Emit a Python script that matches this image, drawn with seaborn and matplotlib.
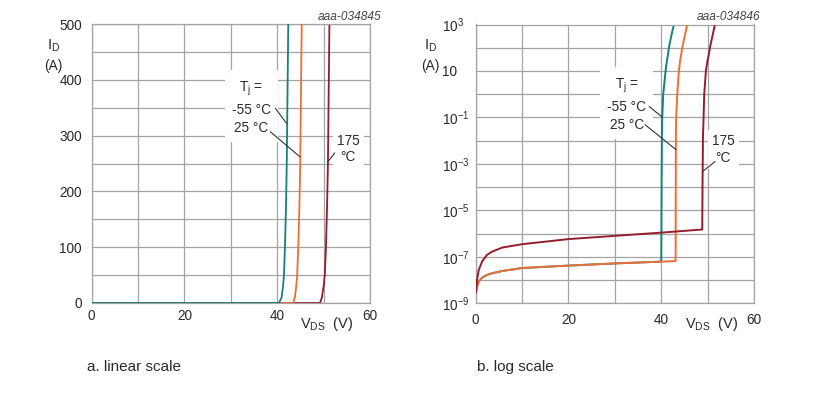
import matplotlib
matplotlib.use("Agg")
import matplotlib.pyplot as plt
import seaborn as sns
from matplotlib.ticker import FixedLocator, NullFormatter, FixedFormatter

# ---------------- data ----------------
temps = ["-55 °C", "25 °C", "175 °C"]
colors = ["#17807c", "#ec6f36", "#941d2c"]

v_m55 = [0, 0.29, 0.65, 1.36, 2.4, 3.5, 5.7, 10, 20, 30, 40.0, 40.08, 40.15, 40.22, 40.43,
         40.94, 41.25, 41.45, 41.66, 41.9, 42.05, 42.38, 42.74]
i_m55 = [2.7e-9, 5.2e-9, 8.5e-9, 1.26e-8, 1.66e-8, 1.95e-8, 2.45e-8, 3.3e-8, 4.2e-8, 5.2e-8,
         6.2e-8, 1e-4, 1.6e-2, 0.1, 1, 10, 30, 50, 100, 175, 250, 500, 1000]

v_25 = [0, 0.29, 0.65, 1.36, 2.4, 3.5, 5.7, 10, 20, 30, 40, 43.1, 43.13, 43.16, 43.23, 43.45,
        43.8, 44.1, 44.3, 44.53, 44.78, 44.96, 45.28, 45.6]
i_25 = [2.7e-9, 5.2e-9, 8.5e-9, 1.26e-8, 1.66e-8, 1.95e-8, 2.45e-8, 3.3e-8, 4.2e-8, 5.2e-8,
        6.2e-8, 6.6e-8, 1e-4, 1.6e-2, 0.1, 1, 10, 30, 50, 100, 175, 250, 500, 1000]

v_175 = [0, 0.29, 0.65, 1.36, 2.4, 3.5, 5.7, 10, 20, 30, 40, 48.84, 48.9, 49.0, 49.13, 49.27,
         49.63, 50.0, 50.25, 50.5, 50.75, 50.93, 51.25, 51.57]
i_175 = [2.7e-9, 1e-8, 2.7e-8, 6.2e-8, 1.2e-7, 1.66e-7, 2.5e-7, 3.5e-7, 5.8e-7, 8e-7, 1.1e-6,
         1.5e-6, 1e-4, 1.6e-2, 0.1, 1, 10, 30, 50, 100, 175, 250, 500, 1000]

x_ticks = [0, 20, 40, 60]
x_minor = [10, 30, 50]
lin_ticks = [0, 100, 200, 300, 400, 500]
lin_minor = [50, 150, 250, 350, 450]
log_ticks = [1e3, 1e1, 1e-1, 1e-3, 1e-5, 1e-7, 1e-9]
log_labels = ["$10^{3}$", "10", "$10^{-1}$", "$10^{-3}$", "$10^{-5}$", "$10^{-7}$", "$10^{-9}$"]
log_minor = [1e2, 1e0, 1e-2, 1e-4, 1e-6, 1e-8]

series = [(v_m55, i_m55), (v_25, i_25), (v_175, i_175)]

# ---------------- style ----------------
sns.set_style("white")
plt.rcParams["font.family"] = ["Liberation Sans", "DejaVu Sans"]
plt.rcParams["mathtext.fontset"] = "custom"
plt.rcParams["mathtext.rm"] = "Liberation Sans"
plt.rcParams["mathtext.it"] = "Liberation Sans:italic"
plt.rcParams["mathtext.bf"] = "Liberation Sans:bold"

TXT = "#2a2a2a"
GRID = "#a3a3a3"
FS = 9.8

W, H = 826, 393
fig = plt.figure(figsize=(W / 100, H / 100), dpi=100)

def px_axes(x0, y0, x1, y1):
    return fig.add_axes([x0 / W, 1 - y1 / H, (x1 - x0) / W, (y1 - y0) / H])

ax1 = px_axes(91.7, 24, 370, 303)
ax2 = px_axes(475.7, 24.5, 754, 303.3)

def common(ax):
    ax.set_xlim(0, 60)
    ax.xaxis.set_major_locator(FixedLocator(x_ticks))
    ax.xaxis.set_minor_locator(FixedLocator(x_minor))
    ax.grid(which="both", color=GRID, lw=0.9)
    ax.set_axisbelow(True)
    for s in ax.spines.values():
        s.set_color(GRID)
        s.set_linewidth(0.9)
    ax.tick_params(which="both", length=0, labelsize=FS, labelcolor=TXT)
    ax.set_xlabel("")
    ax.set_ylabel("")

# linear chart
for (v, i), c, z in zip(series, colors, [4, 3, 2]):
    sns.lineplot(x=v, y=i, ax=ax1, color=c, lw=1.3, sort=False, estimator=None, zorder=z)
common(ax1)
ax1.set_ylim(0, 500)
ax1.yaxis.set_major_locator(FixedLocator(lin_ticks))
ax1.yaxis.set_minor_locator(FixedLocator(lin_minor))
ax1.tick_params(axis="y", pad=7)
ax1.tick_params(axis="x", pad=4)

# log chart
for (v, i), c, z in zip(series, colors, [2, 3, 4]):
    sns.lineplot(x=v, y=i, ax=ax2, color=c, lw=1.4, sort=False, estimator=None, zorder=z)
common(ax2)
ax2.set_yscale("log")
ax2.set_ylim(1e-9, 1e3)
ax2.yaxis.set_major_locator(FixedLocator(log_ticks))
ax2.yaxis.set_major_formatter(FixedFormatter(log_labels))
ax2.yaxis.set_minor_locator(FixedLocator(log_minor))
ax2.yaxis.set_minor_formatter(NullFormatter())
ax2.tick_params(axis="y", pad=24)
for lab in ax2.get_yticklabels():
    lab.set_horizontalalignment("left")
ax2.tick_params(axis="x", pad=7)

# ---------------- annotations ----------------
box = dict(facecolor="white", edgecolor="none", pad=3)

def leader(ax, p0, p1):
    ax.annotate("", xy=p1, xytext=p0,
                arrowprops=dict(arrowstyle="-", color="#333333", lw=0.8,
                                shrinkA=0, shrinkB=0), zorder=6)

# linear
ax1.text(34.4, 350, "T$_{\\mathrm{j}}$ =\n-55 °C\n25 °C", ha="center", va="center",
         fontsize=FS, color=TXT, linespacing=1.4, bbox=dict(facecolor="white", edgecolor="none", pad=5), zorder=5)
leader(ax1, (39.6, 349), (42.0, 322))
leader(ax1, (38.5, 307), (44.9, 262))
ax1.text(55.3, 276, "175\n°C", ha="center", va="center", fontsize=FS, color=TXT,
         linespacing=1.2, bbox=box, zorder=5)
leader(ax1, (52.4, 269), (50.9, 253))

# log
ax2.text(32.6, 10 ** -0.44, "T$_{\\mathrm{j}}$ =\n-55 °C\n25 °C", ha="center", va="center",
         fontsize=FS, color=TXT, linespacing=1.4, bbox=dict(facecolor="white", edgecolor="none", pad=5), zorder=5)
leader(ax2, (37.4, 10 ** -0.53), (40.2, 10 ** -0.98))
leader(ax2, (36.5, 10 ** -1.31), (43.2, 10 ** -2.39))
ax2.text(53.4, 10 ** -2.38, "175\n°C", ha="center", va="center", fontsize=FS, color=TXT,
         linespacing=1.2, bbox=box, zorder=5)
leader(ax2, (51.6, 10 ** -2.9), (48.9, 10 ** -3.33))

# axis labels, codes, captions (figure pixel coordinates)
def ftext(x, y, s, **kw):
    kw.setdefault("fontsize", FS)
    kw.setdefault("color", TXT)
    fig.text(x / W, 1 - y / H, s, **kw)

for xl, xa, code, xv in [(44, 300, "aaa-034845", 381), (421, 685, "aaa-034846", 760)]:
    ftext(xl + 3, 50, "$\\mathrm{I_D}$", ha="left", va="baseline", fontsize=FS + 0.7)
    ftext(xl, 70, "(A)", ha="left", va="baseline")
    ftext(xa, 328, "$\\mathrm{V_{DS}}$  (V)", ha="left", va="baseline", fontsize=FS + 0.7)
    ftext(xv, 17, code, ha="right", va="center", fontsize=8.6, style="italic", color="#444444")

ftext(87, 367, "a. linear scale", ha="left", va="center", fontsize=11)
ftext(477, 367, "b. log scale", ha="left", va="center", fontsize=11)

fig.savefig("out.png", dpi=100)
